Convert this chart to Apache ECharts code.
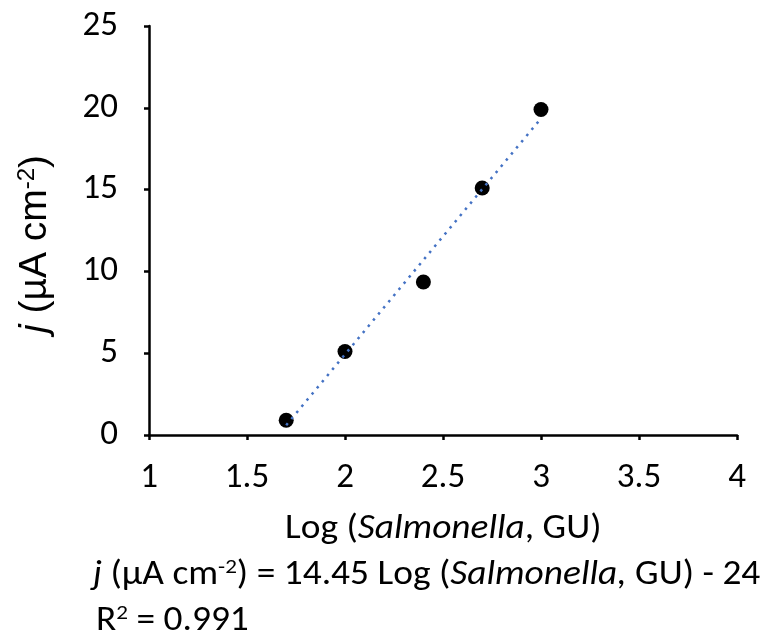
<!DOCTYPE html>
<html><head><meta charset="utf-8">
<script src="https://cdn.jsdelivr.net/npm/echarts@6/dist/echarts.min.js"></script>
<style>html,body{margin:0;padding:0;background:#fff}#c{width:771px;height:631px}</style>
</head><body><div id="c"></div>
<script>
const xValues = [1.7, 2.0, 2.4, 2.7, 3.0];
const yValues = [0.9, 5.1, 9.35, 15.1, 19.9];
const trendX = [1.7, 3.0];
const trendY = [0.6, 19.35];
const xTicks = [1, 1.5, 2, 2.5, 3, 3.5, 4];
const yTicks = [0, 5, 10, 15, 20, 25];
const xAxisTitle = 'Log ({it|Salmonella}, GU)';
const yAxisTitle = '{i|j} (µA cm{s|-2})';
const equationText = '{it|j} (µA cm{s|-2}) = 14.45 Log ({it|Salmonella,} GU) - 24';
const r2Text = 'R{s|2} = 0.991';

const FONT = 'Carlito, Lato, "Open Sans", sans-serif';
const YFONT = '"Liberation Sans", Arial, sans-serif';
const chart = echarts.init(document.getElementById('c'), null, {renderer: 'canvas'});
const axisLine = {show: true, lineStyle: {color: '#000', width: 2.5}};
const tick = {show: true, length: 5, inside: false, lineStyle: {color: '#000', width: 2.5}};
chart.setOption({
  animation: false,
  backgroundColor: '#fff',
  grid: {left: 149, top: 26, width: 588, height: 409, containLabel: false},
  xAxis: {
    type: 'value', min: xTicks[0], max: xTicks[xTicks.length - 1], interval: 0.5,
    axisLine: axisLine, axisTick: tick, splitLine: {show: false},
    axisLabel: {color: '#000', fontSize: 35, fontFamily: FONT, margin: 26},
  },
  yAxis: {
    type: 'value', min: yTicks[0], max: yTicks[yTicks.length - 1], interval: 5,
    axisLine: axisLine, axisTick: tick, splitLine: {show: false},
    axisLabel: {color: '#000', fontSize: 35, fontFamily: FONT, margin: 31},
  },
  series: [
    {
      type: 'line', data: trendX.map((x, i) => [x, trendY[i]]),
      showSymbol: false, symbol: 'none',
      lineStyle: {color: '#4472C4', width: 2.5, type: [2.5, 5.5]}, z: 3
    },
    {
      type: 'scatter', data: xValues.map((x, i) => [x, yValues[i]]),
      symbol: 'circle', symbolSize: 15,
      itemStyle: {color: '#000', opacity: 1}, z: 2
    }
  ],
  graphic: [
    {type: 'text', x: 35, y: 244, rotation: Math.PI / 2, style: {
      text: yAxisTitle, fill: '#000', font: '39px ' + YFONT, align: 'center', verticalAlign: 'middle',
      rich: {
        i: {fontSize: 39, fontStyle: 'italic', fontFamily: YFONT},
        s: {fontSize: 24, fontFamily: YFONT, verticalAlign: 'top', padding: [0, 0, 16, 0]}
      }
    }},
    {type: 'text', x: 285, y: 529, scaleX: 1.1, style: {
      text: xAxisTitle, fill: '#000', font: '34px ' + FONT, align: 'left', verticalAlign: 'middle',
      rich: {it: {fontStyle: 'italic', fontSize: 34, fontFamily: FONT}}
    }},
    {type: 'text', x: 93, y: 575, scaleX: 1.1, style: {
      text: equationText, fill: '#000', font: '34px ' + FONT, align: 'left', verticalAlign: 'middle',
      rich: {
        it: {fontStyle: 'italic', fontSize: 34, fontFamily: FONT},
        s: {fontSize: 21, fontFamily: FONT, verticalAlign: 'top', padding: [0, 0, 14, 0]}
      }
    }},
    {type: 'text', x: 96, y: 621, scaleX: 1.1, style: {
      text: r2Text, fill: '#000', font: '34px ' + FONT, align: 'left', verticalAlign: 'middle',
      rich: {s: {fontSize: 21, fontFamily: FONT, verticalAlign: 'top', padding: [0, 0, 14, 0]}}
    }}
  ]
});
</script></body></html>
